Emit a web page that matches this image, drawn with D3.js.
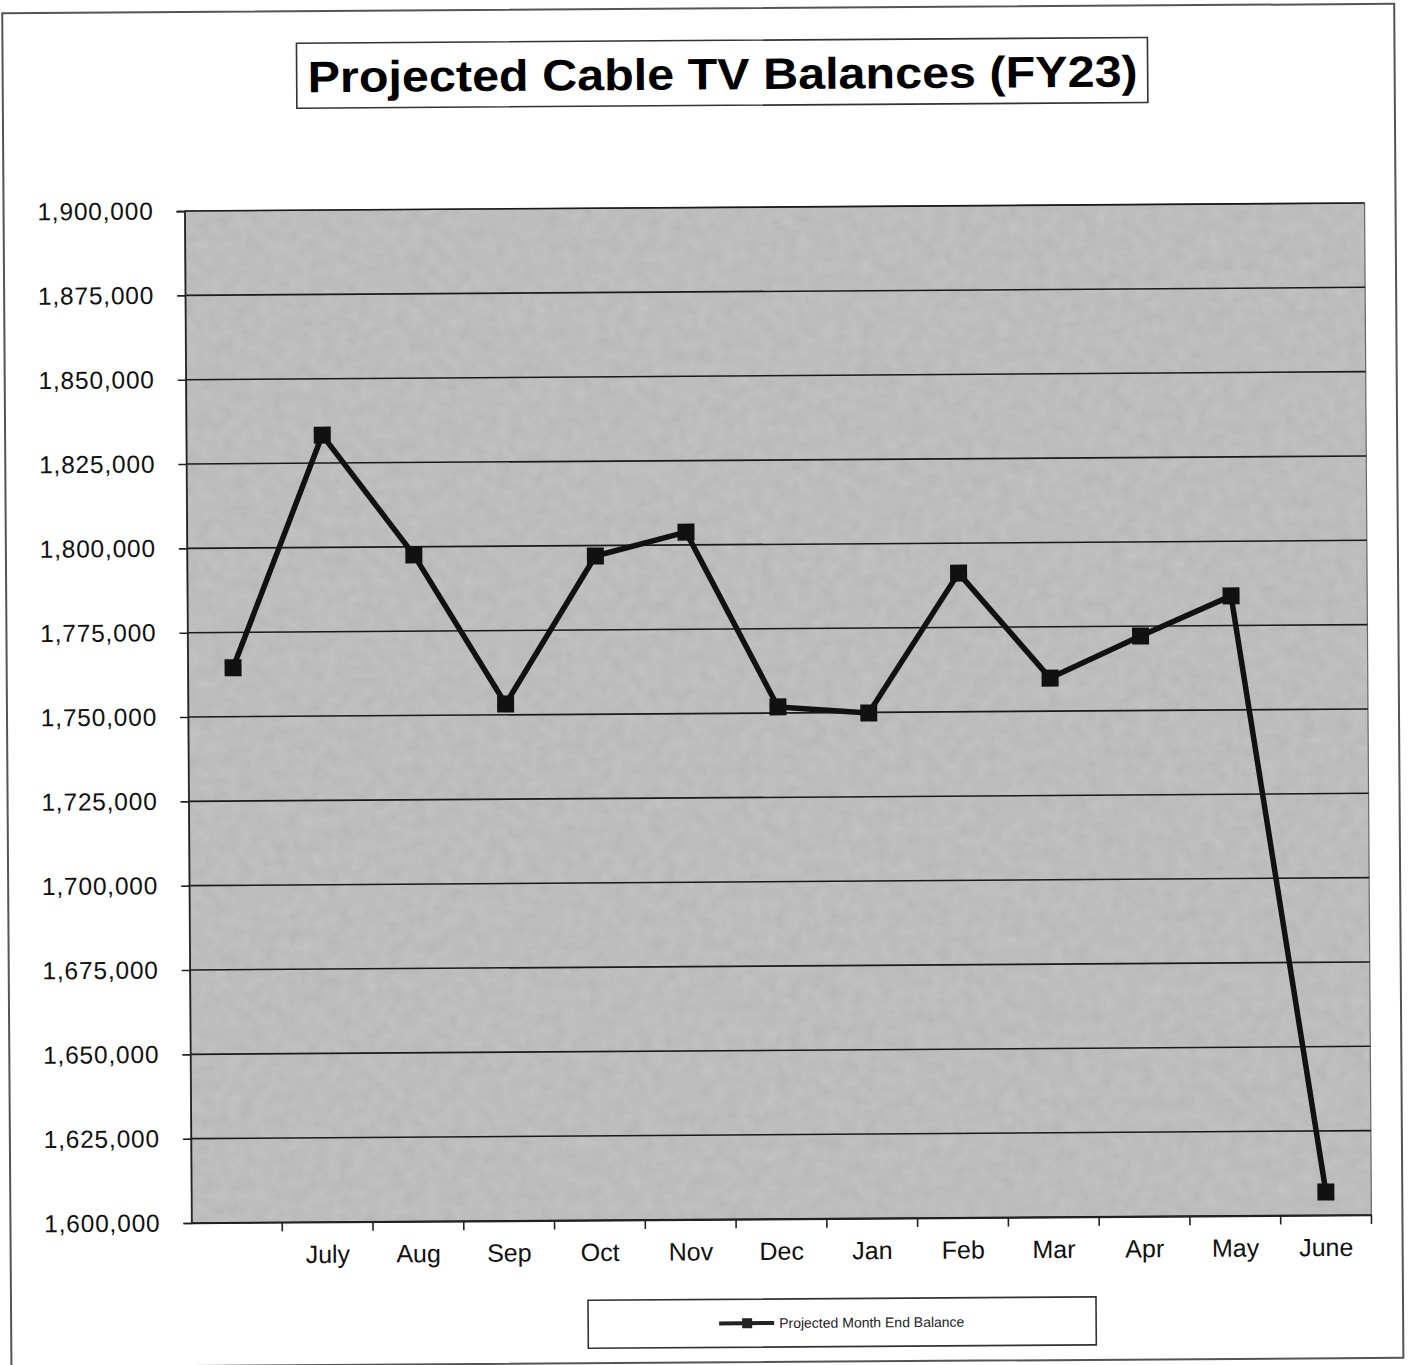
<!DOCTYPE html>
<html><head><meta charset="utf-8">
<script src="https://cdn.jsdelivr.net/npm/d3@7"></script>
<style>body{margin:0;background:#fff;} svg{display:block;}</style>
</head><body>
<svg id="chart" width="1408" height="1365"></svg>
<script>
const categories = ["", "July", "Aug", "Sep", "Oct", "Nov", "Dec", "Jan", "Feb", "Mar", "Apr", "May", "June"];
const balances = [1764500, 1833300, 1797600, 1753200, 1796900, 1803800, 1751800, 1749800, 1791100, 1759800, 1772100, 1783800, 1606900];
const yTicks = [1600000, 1625000, 1650000, 1675000, 1700000, 1725000, 1750000, 1775000, 1800000, 1825000, 1850000, 1875000, 1900000];
const seriesName = "Projected Month End Balance";
const title = "Projected Cable TV Balances (FY23)";

const svg = d3.select("#chart");
const root = svg.append("g").attr("transform", "rotate(-0.39,777,713)");

// outer frame
root.append("rect").attr("x", 7).attr("y", 8).attr("width", 1392).attr("height", 1354)
  .attr("fill", "#fff").attr("stroke", "#555").attr("stroke-width", 2);

const L = 188, R = 1368, T = 207, B = 1219;
const x = d3.scaleBand().domain(categories.map((c, i) => i)).range([L, R]).paddingInner(0).paddingOuter(0);
const y = d3.scaleLinear().domain([1600000, 1900000]).range([B, T]);

// textured gray plot area
const defs = svg.append("defs");
const filt = defs.append("filter").attr("id", "grain").attr("x", 0).attr("y", 0).attr("width", 1).attr("height", 1);
filt.append("feTurbulence").attr("type", "fractalNoise").attr("baseFrequency", 0.08).attr("numOctaves", 2).attr("seed", 3).attr("result", "n");
filt.append("feColorMatrix").attr("in", "n").attr("type", "matrix")
  .attr("values", "0 0 0 0 0  0 0 0 0 0  0 0 0 0 0  0 0 0 0.16 0").attr("result", "a");
filt.append("feComposite").attr("in", "a").attr("in2", "SourceGraphic").attr("operator", "atop");
root.append("rect").attr("x", L).attr("y", T).attr("width", R - L).attr("height", B - T)
  .attr("fill", "#c4c4c4").attr("filter", "url(#grain)");
root.append("rect").attr("x", L).attr("y", T).attr("width", R - L).attr("height", B - T)
  .attr("fill", "none").attr("stroke", "#666").attr("stroke-width", 1.2);

// gridlines
root.append("g").selectAll("line").data(yTicks).join("line")
  .attr("x1", L).attr("x2", R).attr("y1", d => y(d)).attr("y2", d => y(d))
  .attr("stroke", "#1a1a1a").attr("stroke-width", 1.6);

// y axis
const yAxis = root.append("g").attr("transform", `translate(${L},0)`)
  .call(d3.axisLeft(y).tickValues(yTicks).tickSize(8).tickPadding(23).tickFormat(d3.format(",")));
yAxis.select(".domain").attr("stroke", "#222").attr("stroke-width", 1.6);
yAxis.selectAll(".tick line").attr("stroke", "#222").attr("stroke-width", 1.6);
yAxis.selectAll("text").attr("font-family", "Liberation Sans, Arial, sans-serif")
  .attr("font-size", 24.5).attr("letter-spacing", 0.8).attr("fill", "#111");

// x axis
const xAxis = root.append("g").attr("transform", `translate(0,${B})`)
  .call(d3.axisBottom(x).tickSize(0).tickPadding(23).tickFormat(i => categories[i]));
xAxis.select(".domain").attr("stroke", "#222").attr("stroke-width", 1.6);
xAxis.selectAll("text").attr("font-family", "Liberation Sans, Arial, sans-serif")
  .attr("font-size", 25).attr("fill", "#111");
xAxis.append("g").selectAll("line").data(categories.map((c, i) => i).slice(1)).join("line")
  .attr("x1", i => x(i)).attr("x2", i => x(i)).attr("y1", 0).attr("y2", 9)
  .attr("stroke", "#222").attr("stroke-width", 1.6);
xAxis.append("line").attr("x1", R).attr("x2", R).attr("y1", 0).attr("y2", 9)
  .attr("stroke", "#222").attr("stroke-width", 1.6);

// series line
const cx = i => x(i) + x.bandwidth() / 2;
root.append("path").datum(balances)
  .attr("d", d3.line().x((d, i) => cx(i)).y(d => y(d)))
  .attr("fill", "none").attr("stroke", "#111").attr("stroke-width", 5.5).attr("stroke-linejoin", "round");
root.append("g").selectAll("rect").data(balances).join("rect")
  .attr("x", (d, i) => cx(i) - 8.5).attr("y", d => y(d) - 8.5).attr("width", 17).attr("height", 17)
  .attr("fill", "#111");

// title
const tg = root.append("g");
tg.append("rect").attr("x", 301).attr("y", 40).attr("width", 851).attr("height", 65)
  .attr("fill", "#fff").attr("stroke", "#333").attr("stroke-width", 1.6);
tg.append("text").attr("x", 727).attr("y", 89).attr("text-anchor", "middle")
  .attr("font-family", "Liberation Sans, Arial, sans-serif").attr("font-weight", "bold")
  .attr("font-size", 44).attr("textLength", 830).attr("lengthAdjust", "spacingAndGlyphs")
  .attr("fill", "#000").text(title);

// legend
const lg = root.append("g");
lg.append("rect").attr("x", 584).attr("y", 1299).attr("width", 508).attr("height", 48)
  .attr("fill", "#fff").attr("stroke", "#333").attr("stroke-width", 1.6);
lg.append("line").attr("x1", 715).attr("x2", 770).attr("y1", 1323).attr("y2", 1323)
  .attr("stroke", "#222").attr("stroke-width", 4);
lg.append("rect").attr("x", 738).attr("y", 1318).attr("width", 10).attr("height", 10).attr("fill", "#222");
lg.append("text").attr("x", 775).attr("y", 1328).attr("font-family", "Liberation Sans, Arial, sans-serif")
  .attr("font-size", 14).attr("fill", "#222").text(seriesName);
</script>
</body></html>
